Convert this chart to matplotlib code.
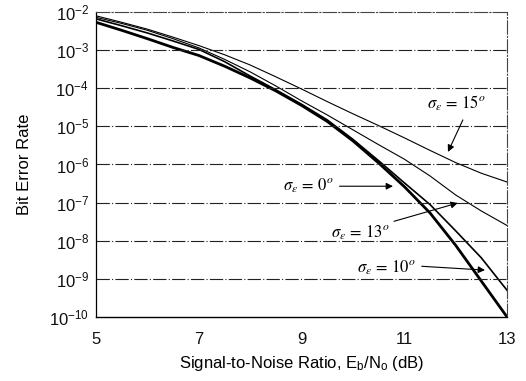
import numpy as np
import matplotlib
matplotlib.use('Agg')
import matplotlib.pyplot as plt
from matplotlib.ticker import LogLocator, NullLocator


## Data (log10 of BER at each SNR)
snr = [5.0, 5.5, 6.0, 6.5, 7.0, 7.5, 8.0, 8.5, 9.0,
       9.5, 10.0, 10.5, 11.0, 11.5, 12.0, 12.5, 13.0]

log_ber_0 = [-2.27, -2.48, -2.70, -2.93, -3.14, -3.42, -3.73, -4.07, -4.45,
             -4.87, -5.38, -5.96, -6.58, -7.27, -8.12, -9.06, -10.0]
log_ber_10 = [-2.18, -2.36, -2.55, -2.76, -2.98, -3.30, -3.68, -4.04, -4.42,
              -4.83, -5.34, -5.90, -6.48, -7.05, -7.74, -8.45, -9.30]
log_ber_13 = [-2.14, -2.30, -2.48, -2.70, -2.94, -3.24, -3.57, -3.94, -4.33,
              -4.70, -5.09, -5.48, -5.86, -6.30, -6.80, -7.22, -7.60]
log_ber_15 = [-2.10, -2.27, -2.45, -2.66, -2.88, -3.12, -3.39, -3.70, -4.02,
              -4.35, -4.67, -4.98, -5.30, -5.63, -5.95, -6.23, -6.46]

x_ticks = [5, 7, 9, 11, 13]
labels = [r'$\sigma_\varepsilon\,=\,0^o$', r'$\sigma_\varepsilon\,=\,10^o$',
          r'$\sigma_\varepsilon\,=\,13^o$', r'$\sigma_\varepsilon\,=\,15^o$']


## Fonts
plt.rcParams['font.family'] = 'Liberation Sans'
plt.rcParams['mathtext.fontset'] = 'custom'
plt.rcParams['mathtext.rm'] = 'Liberation Sans'
plt.rcParams['mathtext.it'] = 'Liberation Sans:italic'
plt.rcParams['mathtext.bf'] = 'Liberation Sans:bold'


## Draw
fig = plt.figure(figsize=(5.26, 3.81), dpi=100)
ax = fig.add_axes([0.1825, 0.168, 0.7815, 0.8005])

curves = [(log_ber_0, 2.0), (log_ber_10, 1.2), (log_ber_13, 0.8), (log_ber_15, 0.8)]
for vals, lw in curves:
    ax.plot(snr, 10.0 ** np.array(vals), color='black', lw=lw)

ax.set_yscale('log')
ax.set_xlim(5, 13)
ax.set_ylim(1e-10, 1e-2)
ax.set_xticks(x_ticks)
ax.yaxis.set_major_locator(LogLocator(base=10, numticks=20))
ax.yaxis.set_minor_locator(NullLocator())
ax.tick_params(axis='both', length=0, labelsize=12, colors='#111111')
ax.tick_params(axis='x', pad=11)
ax.tick_params(axis='y', pad=5)

# decade grid lines
for e in range(-9, -2):
    ax.axhline(10.0 ** e, color='#222222', lw=0.8, ls=(0, (12, 2, 1, 2)))

for side in ['top', 'right']:
    ax.spines[side].set_linestyle((0, (12, 2, 1, 2)))
    ax.spines[side].set_linewidth(0.8)
    ax.spines[side].set_color('#444444')
ax.spines['left'].set_linewidth(0.9)
ax.spines['bottom'].set_linewidth(1.0)

ax.set_xlabel(r'Signal-to-Noise Ratio, E$_\mathrm{b}$/N$_\mathrm{o}$ (dB)',
              fontsize=12, labelpad=5)
ax.set_ylabel('Bit Error Rate', fontsize=12, labelpad=12)

# annotations
ann_style = dict(fontsize=12, math_fontfamily='stix', va='center')
arrow = dict(arrowstyle='-|>', color='black', lw=0.8, mutation_scale=10,
             shrinkA=0, shrinkB=0)

ax.text(9.63, 10 ** -6.57, labels[0], ha='right', **ann_style)
ax.annotate('', xy=(10.78, 10 ** -6.57), xytext=(9.74, 10 ** -6.57), arrowprops=arrow)

ax.text(11.23, 10 ** -8.72, labels[1], ha='right', **ann_style)
ax.annotate('', xy=(12.57, 10 ** -8.77), xytext=(11.34, 10 ** -8.67), arrowprops=arrow)

ax.text(10.72, 10 ** -7.80, labels[2], ha='right', **ann_style)
ax.annotate('', xy=(12.04, 10 ** -7.01), xytext=(10.8, 10 ** -7.49), arrowprops=arrow)

ax.text(12.02, 10 ** -4.40, labels[3], ha='center', **ann_style)
ax.annotate('', xy=(11.85, 10 ** -5.67), xytext=(12.14, 10 ** -4.83), arrowprops=arrow)

plt.savefig('out.png', dpi=100)
